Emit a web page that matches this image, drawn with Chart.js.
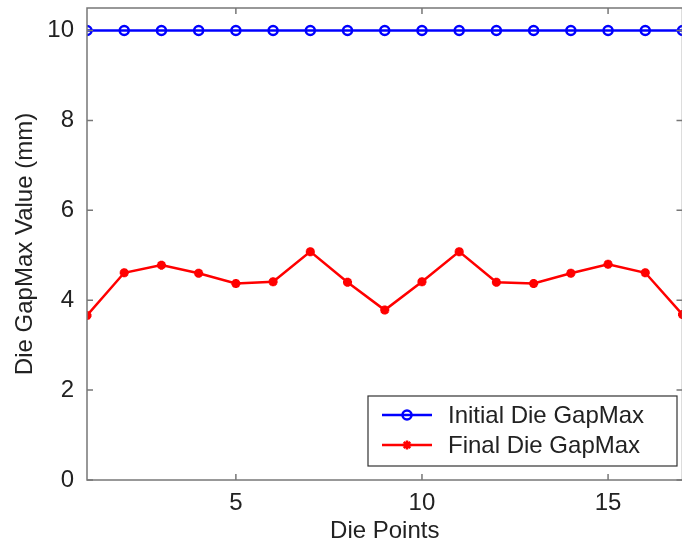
<!DOCTYPE html>
<html>
<head>
<meta charset="utf-8">
<script src="https://cdn.jsdelivr.net/npm/chart.js@4/dist/chart.umd.min.js"></script>
<style>
  html, body { margin: 0; padding: 0; background: #fff; overflow: hidden; }
  #wrap { width: 690px; height: 544px; }
</style>
</head>
<body>
<div id="wrap"><canvas id="c" width="690" height="544"></canvas></div>
<script>
const diePoints = [1, 2, 3, 4, 5, 6, 7, 8, 9, 10, 11, 12, 13, 14, 15, 16, 17];
const initialGap = [10, 10, 10, 10, 10, 10, 10, 10, 10, 10, 10, 10, 10, 10, 10, 10, 10];
const finalGap = [3.66, 4.61, 4.78, 4.60, 4.37, 4.41, 5.08, 4.40, 3.78, 4.41, 5.08, 4.40, 4.37, 4.60, 4.80, 4.61, 3.68];
const xTicks = [5, 10, 15];
const yTicks = [0, 2, 4, 6, 8, 10];

const fontFam = '"Liberation Sans", Arial, sans-serif';

// matlab style box, inner ticks and legend inside the axes
const axesBox = {
  id: 'axesBox',
  afterDraw(chart) {
    const { ctx, chartArea: a, scales } = chart;
    ctx.save();
    ctx.strokeStyle = '#777';
    ctx.lineWidth = 1.5;
    ctx.strokeRect(a.left, a.top, a.right - a.left, a.bottom - a.top);
    ctx.beginPath();
    xTicks.forEach(v => {
      const px = scales.x.getPixelForValue(v);
      ctx.moveTo(px, a.bottom); ctx.lineTo(px, a.bottom - 6);
      ctx.moveTo(px, a.top); ctx.lineTo(px, a.top + 6);
    });
    yTicks.forEach(v => {
      const py = scales.y.getPixelForValue(v);
      ctx.moveTo(a.left, py); ctx.lineTo(a.left + 6, py);
      ctx.moveTo(a.right, py); ctx.lineTo(a.right - 6, py);
    });
    ctx.stroke();

    // legend
    const bx = 368, by = 396, bw = 309, bh = 70;
    ctx.fillStyle = '#fff';
    ctx.fillRect(bx, by, bw, bh);
    ctx.strokeStyle = '#333';
    ctx.lineWidth = 1.2;
    ctx.strokeRect(bx, by, bw, bh);
    chart.data.datasets.forEach((ds, i) => {
      const y = by + 19 + i * 30;
      ctx.strokeStyle = ds.borderColor;
      ctx.lineWidth = 2.5;
      ctx.beginPath();
      ctx.moveTo(382, y); ctx.lineTo(432, y);
      ctx.stroke();
      ctx.fillStyle = ds.pointBackgroundColor;
      Chart.helpers.drawPoint(ctx, {
        pointStyle: ds.pointStyle, radius: ds.pointRadius,
        borderWidth: ds.pointBorderWidth, rotation: 0
      }, 407, y);
      ctx.fillStyle = '#222';
      ctx.font = '24px ' + fontFam;
      ctx.textBaseline = 'middle';
      ctx.textAlign = 'left';
      ctx.fillText(ds.label, 448, y + 1);
    });
    ctx.restore();
  }
};

new Chart(document.getElementById('c'), {
  type: 'line',
  data: {
    datasets: [
      {
        label: 'Initial Die GapMax',
        data: diePoints.map((x, i) => ({ x, y: initialGap[i] })),
        borderColor: '#0000ff',
        backgroundColor: '#ffffff',
        borderWidth: 2.5,
        pointStyle: 'circle',
        pointRadius: 4.5,
        pointBorderWidth: 2.5,
        pointBorderColor: '#0000ff',
        pointBackgroundColor: 'rgba(255,255,255,0)'
      },
      {
        label: 'Final Die GapMax',
        data: diePoints.map((x, i) => ({ x, y: finalGap[i] })),
        borderColor: '#ff0000',
        backgroundColor: '#ff0000',
        borderWidth: 2.5,
        pointStyle: 'star',
        pointRadius: 4.5,
        pointBorderWidth: 3,
        pointBorderColor: '#ff0000',
        pointBackgroundColor: '#ff0000'
      }
    ]
  },
  options: {
    responsive: false,
    animation: false,
    layout: { padding: { top: 8, right: 5, left: 0, bottom: 0 } },
    plugins: { legend: { display: false }, tooltip: { enabled: false } },
    scales: {
      x: {
        type: 'linear',
        min: 1,
        max: 17,
        afterFit: s => { s.height = 64; s.paddingRight = 0; },
        afterBuildTicks: s => { s.ticks = xTicks.map(v => ({ value: v })); },
        grid: { display: false },
        border: { display: false },
        ticks: { color: '#222', padding: 1, font: { family: fontFam, size: 24 } },
        title: {
          display: true, text: 'Die Points', color: '#222',
          padding: { top: 0, bottom: -2 }, font: { family: fontFam, size: 24 }
        }
      },
      y: {
        min: 0,
        max: 10.5,
        afterFit: s => { s.width = 87; s.paddingTop = 0; },
        afterBuildTicks: s => { s.ticks = yTicks.map(v => ({ value: v })); },
        grid: { display: false },
        border: { display: false },
        ticks: { color: '#222', padding: 5, font: { family: fontFam, size: 24 } },
        title: {
          display: true, text: 'Die GapMax Value (mm)', color: '#222',
          padding: { top: 11, bottom: 0 }, font: { family: fontFam, size: 24 }
        }
      }
    }
  },
  plugins: [axesBox]
});
</script>
</body>
</html>
